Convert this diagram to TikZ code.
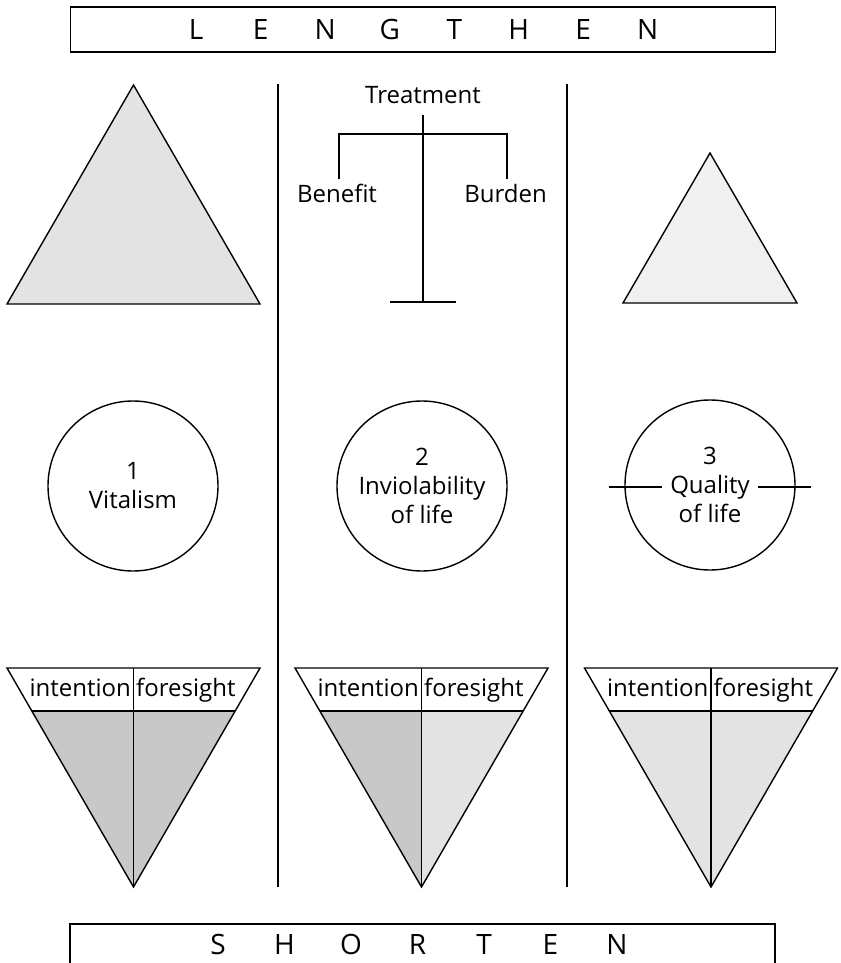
\documentclass[tikz,border=0pt]{standalone}
\usepackage{fontspec}
\setmainfont{Open Sans}
\usetikzlibrary{calc}
\definecolor{shadeA}{HTML}{C8C8C8}
\definecolor{shadeB}{HTML}{E3E3E3}
\definecolor{shadeC}{HTML}{F0F0F0}
\newcommand\spacedletter[2]{\makebox[#1]{#2}}
\newcommand\drawfunnel[4]{%
  \coordinate (#4a) at (#1-126.5,668);
  \coordinate (#4b) at (#1+126.5,668);
  \coordinate (#4c) at (#1,887);
  \coordinate (#4t) at (#1,668);
  \coordinate (#4p) at ($(#4a)!0.196!(#4c)$);
  \coordinate (#4q) at ($(#4b)!0.196!(#4c)$);
  \coordinate (#4m) at ($(#4p)!0.5!(#4q)$);
  \fill[#2] (#4p) -- (#4m) -- (#4c) -- cycle;
  \fill[#3] (#4m) -- (#4q) -- (#4c) -- cycle;
  \draw (#4a) -- (#4b) -- (#4c) -- cycle;
  \draw (#4p) -- (#4q);
  \draw (#4t) -- (#4c);
  \node[lbl, anchor=base east] (#4int) at ($(#4t)+(-2,28)$) {intention};
  \node[lbl, anchor=base west] (#4fore) at ($(#4t)+(2,28)$) {foresight};
}
\begin{document}
\begin{tikzpicture}[x=1pt,y=-1pt,line width=1.4pt,
  lbl/.style={font=\fontsize{24}{29}\selectfont, inner sep=0pt, align=center},
  banner/.style={draw, minimum width=705pt, inner sep=0pt, font=\fontsize{28}{34}\selectfont},
  ring/.style={circle, draw, minimum size=170pt, inner sep=0pt}]
\useasboundingbox (0,0) rectangle (840,963);

% banners
\node[banner, minimum height=45pt] (lengthen) at (423,29.5)
  {\spacedletter{64.5pt}{L}\spacedletter{64.5pt}{E}\spacedletter{64.5pt}{N}\spacedletter{64.5pt}{G}\spacedletter{64.5pt}{T}\spacedletter{64.5pt}{H}\spacedletter{64.5pt}{E}\spacedletter{64.5pt}{N}\hspace*{2pt}};
\node[banner, minimum height=40pt] (shorten) at (422.5,944)
  {\spacedletter{66.5pt}{S}\spacedletter{66.5pt}{H}\spacedletter{66.5pt}{O}\spacedletter{66.5pt}{R}\spacedletter{66.5pt}{T}\spacedletter{66.5pt}{E}\spacedletter{66.5pt}{N}\hspace*{10pt}};

% dividers
\coordinate (d1t) at (278,84); \coordinate (d1b) at (278,887);
\coordinate (d2t) at (567,84); \coordinate (d2b) at (567,887);
\draw (d1t) -- (d1b);
\draw (d2t) -- (d2b);

% upper triangles
\draw[fill=shadeB] (133.5,85) -- (260,304) -- (7,304) -- cycle;
\draw[fill=shadeC] (710,153) -- (797,303) -- (623,303) -- cycle;

% scales of treatment
\node[lbl] (treat) at (423,95) {Treatment};
\node[lbl] (benefit) at (337,193) {Benefit};
\node[lbl] (burden) at (505.5,193) {Burden};
\coordinate (stemtop) at (423,115);
\coordinate (stembot) at (423,302);
\coordinate (barL) at (339,134);
\coordinate (barR) at (507,134);
\coordinate (dropL) at (339,179);
\coordinate (dropR) at (507,179);
\coordinate (baseL) at (390,302);
\coordinate (baseR) at (456,302);
\draw (stemtop) -- (stembot);
\draw (dropL) -- (barL) -- (barR) -- (dropR);
\draw (baseL) -- (baseR);

% circles
\node[ring, lbl] (c1) at (133,486) {1\\Vitalism};
\node[ring, lbl] (c2) at (422,486) {2\\Inviolability\\of life};
\node[ring, lbl] (c3) at (710,485) {3\\Quality\\of life};
\coordinate (q1) at (609,487); \coordinate (q2) at (662,487);
\coordinate (q3) at (758,487); \coordinate (q4) at (811,487);
\draw (q1) -- (q2);
\draw (q3) -- (q4);

% funnels
\drawfunnel{133.5}{shadeA}{shadeA}{f1}
\drawfunnel{421.5}{shadeA}{shadeB}{f2}
\drawfunnel{711}{shadeB}{shadeB}{f3}
\end{tikzpicture}
\end{document}
